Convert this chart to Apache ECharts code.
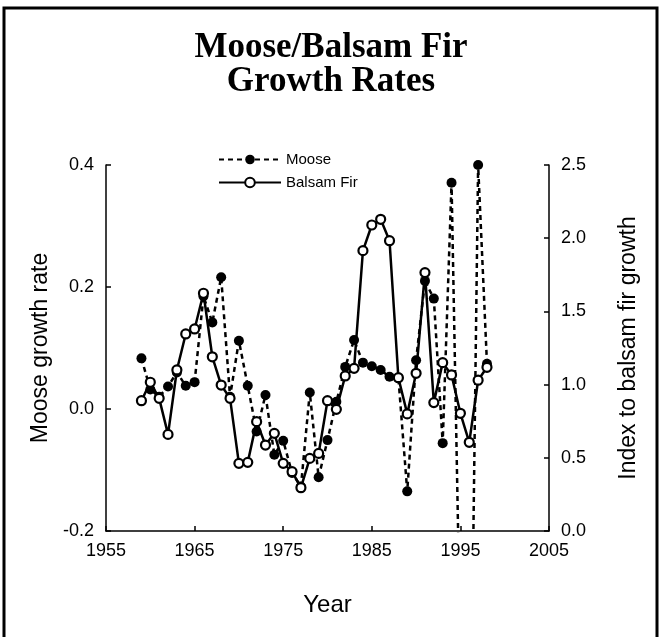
<!DOCTYPE html>
<html>
<head>
<meta charset="utf-8">
<script src="https://cdn.jsdelivr.net/npm/echarts@6/dist/echarts.min.js"></script>
<style>
  html, body { margin: 0; padding: 0; background: #fff; }
  #chart { width: 662px; height: 637px; }
</style>
</head>
<body>
<div id="chart"></div>
<script>
// years 1959 - 1998
const years = [1959, 1960, 1961, 1962, 1963, 1964, 1965, 1966, 1967, 1968,
  1969, 1970, 1971, 1972, 1973, 1974, 1975, 1976, 1977, 1978,
  1979, 1980, 1981, 1982, 1983, 1984, 1985, 1986, 1987, 1988,
  1989, 1990, 1991, 1992, 1993, 1994, 1995, 1996, 1997, 1998]
// moose growth rate (left axis)
const moose = [0.083, 0.032, 0.02, 0.037, 0.06, 0.038, 0.044, 0.185, 0.142, 0.216,
  0.02, 0.112, 0.038, -0.037, 0.023, -0.075, -0.052, -0.105, -0.127, 0.027,
  -0.112, -0.051, 0.012, 0.069, 0.113, 0.076, 0.070, 0.064, 0.053, 0.051,
  -0.135, 0.080, 0.210, 0.181, -0.056, 0.371, -0.40, -0.73, 0.400, 0.074]
// index to balsam fir growth (right axis)
const balsam = [0.89, 1.016, 0.906, 0.66, 1.10, 1.346, 1.38, 1.624, 1.19, 0.997,
  0.906, 0.462, 0.469, 0.747, 0.587, 0.667, 0.462, 0.405, 0.296, 0.496,
  0.53, 0.89, 0.831, 1.059, 1.111, 1.915, 2.09, 2.129, 1.983, 1.047,
  0.80, 1.077, 1.765, 0.877, 1.15, 1.066, 0.804, 0.606, 1.03, 1.118]

const axisFont = 'Liberation Sans, Arial, sans-serif'
const axisCommon = {
  axisLine: { show: true, onZero: false, lineStyle: { color: '#000', width: 1.5 } },
  axisTick: { show: true, inside: true, length: 5, lineStyle: { color: '#000', width: 1.5 } },
  splitLine: { show: false },
  axisLabel: { color: '#000', fontSize: 18, fontFamily: axisFont },
  nameTextStyle: { color: '#000', fontFamily: axisFont }
}

const chart = echarts.init(document.getElementById('chart'))
chart.setOption({
  animation: false,
  backgroundColor: '#fff',
  title: {
    text: 'Moose/Balsam Fir\nGrowth Rates',
    left: 'center',
    top: 26,
    textStyle: {
      fontFamily: 'Liberation Serif, Times New Roman, serif',
      fontWeight: 'bold',
      fontSize: 35,
      lineHeight: 34,
      color: '#000'
    }
  },
  graphic: [{
    type: 'rect',
    shape: { x: 4, y: 8, width: 653, height: 640 },
    style: { fill: 'none', stroke: '#000', lineWidth: 3 },
    silent: true
  }],
  legend: {
    orient: 'vertical',
    left: 213,
    top: 147,
    itemWidth: 62,
    itemHeight: 12,
    itemGap: 8,
    textStyle: { fontSize: 15, fontFamily: axisFont, color: '#000' },
    data: ['Moose', 'Balsam Fir']
  },
  grid: { left: 106, right: 113, top: 165, bottom: 106 },
  xAxis: Object.assign({}, axisCommon, {
    type: 'value',
    min: 1955,
    max: 2005,
    interval: 10,
    name: 'Year',
    nameLocation: 'middle',
    nameGap: 62,
    nameTextStyle: { color: '#000', fontFamily: axisFont, fontSize: 24 },
    axisLabel: { color: '#000', fontSize: 18, fontFamily: axisFont, margin: 11, formatter: v => String(v) }
  }),
  yAxis: [
    Object.assign({}, axisCommon, {
      type: 'value',
      position: 'left',
      min: -0.2,
      max: 0.4,
      interval: 0.2,
      name: 'Moose growth rate',
      nameLocation: 'middle',
      nameRotate: 90,
      nameGap: 54,
      nameTextStyle: { color: '#000', fontFamily: axisFont, fontSize: 23 },
      axisLabel: { color: '#000', fontSize: 18, fontFamily: axisFont, margin: 12, formatter: v => v.toFixed(1) }
    }),
    Object.assign({}, axisCommon, {
      type: 'value',
      position: 'right',
      min: 0,
      max: 2.5,
      interval: 0.5,
      name: 'Index to balsam fir growth',
      nameLocation: 'middle',
      nameRotate: 90,
      nameGap: 68,
      nameTextStyle: { color: '#000', fontFamily: axisFont, fontSize: 23 },
      axisLabel: { color: '#000', fontSize: 18, fontFamily: axisFont, margin: 12, formatter: v => v.toFixed(1) }
    })
  ],
  series: [
    {
      name: 'Moose',
      type: 'line',
      yAxisIndex: 0,
      data: years.map((y, i) => [y, moose[i]]),
      symbol: 'circle',
      symbolSize: 10,
      showAllSymbol: true,
      itemStyle: { color: '#000' },
      lineStyle: { color: '#000', width: 2.5, type: [5, 4] },
      clip: true
    },
    {
      name: 'Balsam Fir',
      type: 'line',
      yAxisIndex: 1,
      data: years.map((y, i) => [y, balsam[i]]),
      symbol: 'circle',
      symbolSize: 9,
      showAllSymbol: true,
      itemStyle: { color: '#fff', borderColor: '#000', borderWidth: 2.2 },
      lineStyle: { color: '#000', width: 2.5 },
      clip: true
    }
  ]
})
</script>
</body>
</html>
